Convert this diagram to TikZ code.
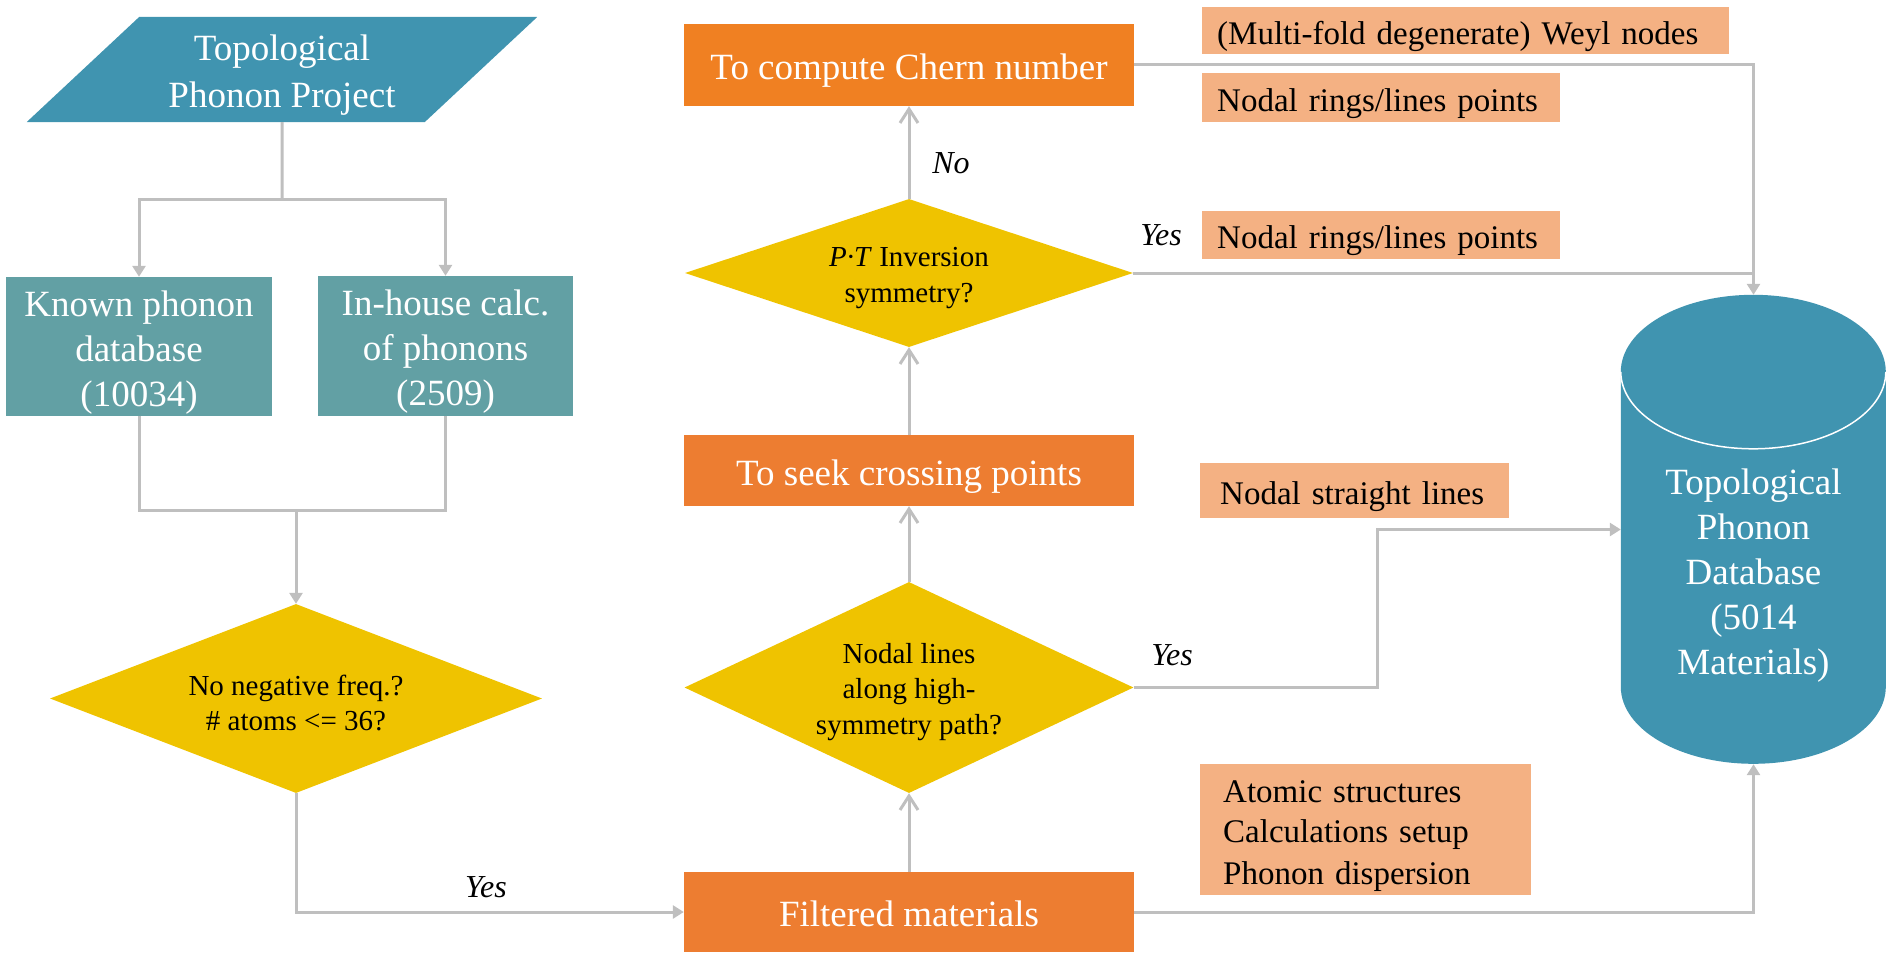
\documentclass[tikz,border=0pt]{standalone}
\usepackage{fontspec}
\setmainfont{Liberation Serif}
\usetikzlibrary{shapes.geometric,arrows.meta,backgrounds}

\definecolor{projblue}{HTML}{4094B0}
\definecolor{srcteal}{HTML}{62A0A4}
\definecolor{steporange}{HTML}{ED7D31}
\definecolor{chernorange}{HTML}{F08022}
\definecolor{noteorange}{HTML}{F4B183}
\definecolor{testgold}{HTML}{EFC300}
\definecolor{linkgrey}{HTML}{BFBFBF}

\newcommand{\linestrut}{\rule[-0.22em]{0pt}{1.25em}}
\newcommand{\headstrut}{\rule{0pt}{1em}}

\tikzset{
    padded/.style={execute at begin node=\linestrut, execute at end node=\linestrut},
    bigtext/.style={font=\fontsize{37}{45}\selectfont, text=white, align=center},
    srcbox/.style={bigtext, fill=srcteal, inner sep=0pt},
    stepbox/.style={bigtext, padded, fill=steporange, minimum width=450pt, inner sep=0pt},
    testbox/.style={diamond, fill=testgold, inner sep=0pt, align=center, font=\fontsize{29}{35.5}\selectfont},
    notebox/.style={padded, fill=noteorange, anchor=north west, align=left, inner ysep=0pt, font=\fontsize{33}{40}\selectfont},
    answer/.style={font=\fontsize{32}{38}\selectfont\itshape},
    link/.style={draw=linkgrey, line width=3pt},
    arr/.style={link, -{Triangle[length=11pt,width=13pt]}},
    uparr/.style={link, -{Straight Barb[length=14pt,width=18pt]}}
}

\begin{document}
\begin{tikzpicture}[x=1pt, y=-1pt]
            \useasboundingbox (0,0) rectangle (1887,958);

            \node[trapezium, trapezium left angle=45.8, trapezium right angle=134.2, trapezium stretches=true,
                fill=projblue, bigtext, font=\fontsize{37}{47}\selectfont, inner sep=0pt,
                minimum width=512pt, minimum height=105pt] (proj) at (282,69.5) {\headstrut Topological\\Phonon Project};
            \node[srcbox, minimum width=266pt, minimum height=139pt] (known) at (139,346.5) {\headstrut Known phonon\\database\\(10034)};
            \node[srcbox, minimum width=255pt, minimum height=140pt] (inhouse) at (445.5,346) {\headstrut In-house calc.\\of phonons\\(2509)};
            \node[testbox, aspect=2.6, minimum width=492pt, minimum height=189pt] (filter) at (296,698.5) {\headstrut No negative freq.?\\\# atoms <= 36?};

            \node[stepbox, fill=chernorange, minimum height=82pt] (chern) at (909,65) {To compute Chern number};
            \node[testbox, aspect=3.03, minimum width=448pt, minimum height=148pt] (ptsym) at (909,273) {\headstrut\textit{P·T} Inversion\\symmetry?};
            \node[stepbox, minimum height=71pt] (seek) at (909,470.5) {To seek crossing points};
            \node[testbox, aspect=2.13, minimum width=449pt, minimum height=211pt] (hsline) at (909,687.5) {\headstrut Nodal lines\\along high-\\symmetry path?};
            \node[stepbox, minimum height=80pt] (filtered) at (909,912) {Filtered materials};

            \node[notebox, inner xsep=15pt, text width=497pt, minimum height=47pt] (weyl) at (1202,7) {(Multi-fold degenerate) Weyl nodes};
            \node[notebox, inner xsep=15pt, text width=328pt, minimum height=49pt] (ringsa) at (1202,73) {Nodal rings/lines points};
            \node[notebox, inner xsep=15pt, text width=328pt, minimum height=48pt] (ringsb) at (1202,211) {Nodal rings/lines points};
            \node[notebox, inner xsep=20pt, text width=268.5pt, minimum height=55pt] (straight) at (1200,463) {Nodal straight lines};
            \node[notebox, inner xsep=23pt, text width=285pt, minimum height=131pt] (setup) at (1200,764) {Atomic structures\\Calculations setup\\Phonon dispersion};

            \node[minimum width=265pt, minimum height=469pt, inner sep=0pt] (db) at (1753.5,529.5) {};
            \node[bigtext] (dbtext) at ([yshift=-40pt]db.center) {\headstrut Topological\\Phonon\\Database\\(5014\\Materials)};
            \begin{scope}[on background layer]
                \fill[projblue] ([yshift=-77pt]db.north west) -- ++(0,315)
                    arc[start angle=180, end angle=360, x radius=132.5pt, y radius=77pt] -- ++(0,-315)
                    arc[start angle=0, end angle=180, x radius=132.5pt, y radius=77pt] -- cycle;
                \draw[white, line width=1.5pt] ([yshift=-77pt]db.north west)
                    arc[start angle=180, end angle=360, x radius=132.5pt, y radius=77pt];
            \end{scope}

            \coordinate (split) at (282,199);
            \coordinate (merge) at (296,510);

            \draw[link] (proj.south) -- (split);
            \draw[arr] (split) -| (known.north);
            \draw[arr] (split) -| (inhouse.north);
            \draw[link] (known.south) |- (merge);
            \draw[link] (inhouse.south) |- (merge);
            \draw[arr] (merge) -- (filter.north);
            \draw[arr] (filter.south) |- (filtered.west);
            \node[answer] (yesa) at (486,887) {Yes};

            \draw[uparr] (filtered.north) -- (hsline.south);
            \draw[uparr] (hsline.north) -- (seek.south);
            \draw[uparr] (seek.north) -- (ptsym.south);
            \draw[uparr] (ptsym.north) -- (chern.south);
            \node[answer] (no) at (951,163) {No};

            \draw[arr] (chern.east) -| (db.north);
            \draw[link] (ptsym.east) -- (ptsym.east -| db.north);
            \node[answer] (yesb) at (1161,235) {Yes};
            \draw[arr] (hsline.east) -- ++(244,0) |- (db.west);
            \node[answer] (yesc) at (1172,655) {Yes};
            \draw[arr] (filtered.east) -| (db.south);
        \end{tikzpicture}
\end{document}
